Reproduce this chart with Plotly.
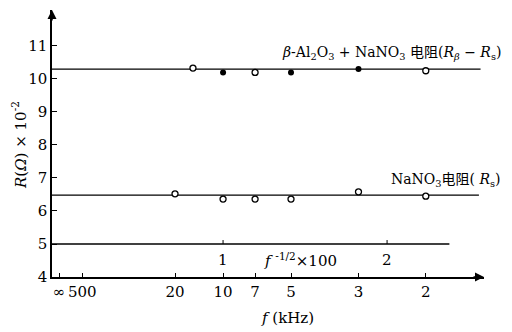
import numpy as np
import plotly.graph_objects as go

# ---- data (frequencies in kHz, resistance in units of 10^2 ohm) ----
top_open_f = [15, 7, 2]
top_open_R = [10.33, 10.20, 10.25]
top_filled_f = [10, 5, 3]
top_filled_R = [10.20, 10.20, 10.30]
top_fit_R = 10.30

nano3_f = [20, 10, 7, 5, 3, 2]
nano3_R = [6.52, 6.36, 6.36, 6.36, 6.58, 6.45]
nano3_fit_R = 6.48

xtick_f = [np.inf, 500, 20, 10, 7, 5, 3, 2]
xtick_text = ["∞", "500", "20", "10", "7", "5", "3", "2"]
yticks = [4, 5, 6, 7, 8, 9, 10, 11]

inner_axis_R = 5.0
inner_ticks = [1, 2]

def u(f_khz):
    f = np.asarray(f_khz, dtype=float)
    return 100.0 / np.sqrt(f * 1000.0)

X0, X1 = -0.043, 2.591
FONT = "DejaVu Serif, Liberation Serif, Noto Sans CJK SC, serif"
FS = 15

fig = go.Figure()

# fitted lines
fig.add_trace(go.Scatter(x=[X0, 2.57], y=[top_fit_R, top_fit_R], mode="lines",
                         line=dict(color="black", width=1.4), showlegend=False))
fig.add_trace(go.Scatter(x=[X0, 2.56], y=[nano3_fit_R, nano3_fit_R], mode="lines",
                         line=dict(color="black", width=1.4), showlegend=False))
# inner axis f^-1/2 x 100 at R=5
fig.add_trace(go.Scatter(x=[X0, 2.38], y=[inner_axis_R, inner_axis_R], mode="lines",
                         line=dict(color="black", width=1.4), showlegend=False))

# points
fig.add_trace(go.Scatter(x=u(top_open_f), y=top_open_R, mode="markers",
                         marker=dict(symbol="circle", size=6, color="white",
                                     line=dict(color="black", width=1.3)),
                         showlegend=False, cliponaxis=False))
fig.add_trace(go.Scatter(x=u(top_filled_f), y=top_filled_R, mode="markers",
                         marker=dict(symbol="circle", size=6, color="black"),
                         showlegend=False, cliponaxis=False))
fig.add_trace(go.Scatter(x=u(nano3_f), y=nano3_R, mode="markers",
                         marker=dict(symbol="circle", size=6, color="white",
                                     line=dict(color="black", width=1.3)),
                         showlegend=False, cliponaxis=False))

shapes = []
for t in inner_ticks:
    shapes.append(dict(type="line", xref="x", yref="y", x0=t, x1=t,
                       y0=inner_axis_R, y1=inner_axis_R + 0.12,
                       line=dict(color="black", width=1)))

annotations = [
    # axis arrows
    dict(x=X1, y=4, xref="x", yref="y", ax=-12, ay=0, text="", showarrow=True,
         arrowhead=2, arrowsize=1.2, arrowwidth=1.5, arrowcolor="black"),
    dict(x=X0, y=12.09, xref="x", yref="y", ax=0, ay=12, text="", showarrow=True,
         arrowhead=2, arrowsize=1.2, arrowwidth=1.5, arrowcolor="black"),
    # series labels
    dict(x=1.044, y=0.839, xref="paper", yref="paper", xanchor="right", yanchor="middle",
         text="<i>β</i>-Al<sub>2</sub>O<sub>3</sub> + NaNO<sub>3</sub> 电阻(<i>R</i><sub><i>β</i></sub> − <i>R</i><sub>s</sub>)",
         showarrow=False, font=dict(family=FONT, size=14, color="black")),
    dict(x=1.044, y=0.363, xref="paper", yref="paper", xanchor="right", yanchor="middle",
         text="NaNO<sub>3</sub>电阻( <i>R</i><sub>s</sub>)",
         showarrow=False, font=dict(family=FONT, size=14, color="black")),
    # inner axis labels
    dict(x=1.47, y=4.53, xref="x", yref="y", showarrow=False,
         text="<i>f</i> <sup>-1/2</sup>×100", font=dict(family=FONT, size=FS, color="black")),
    # titles
    dict(x=-0.076, y=0.495, xref="paper", yref="paper", xanchor="center", yanchor="middle",
         textangle=-90, showarrow=False,
         text="<i>R</i>(<i>Ω</i>) × 10<sup>-2</sup>", font=dict(family=FONT, size=FS, color="black")),
    dict(x=0.545, y=-0.154, xref="paper", yref="paper", xanchor="center", yanchor="middle",
         showarrow=False,
         text="<i>f</i> (kHz)", font=dict(family=FONT, size=FS, color="black")),
]
for t in inner_ticks:
    annotations.append(dict(x=t, y=4.52, xref="x", yref="y", showarrow=False, text=str(t),
                            font=dict(family=FONT, size=FS, color="black")))

fig.update_layout(
    width=504, height=324,
    margin=dict(l=44, r=28, t=2, b=55),
    paper_bgcolor="white", plot_bgcolor="white",
    font=dict(family=FONT, size=FS, color="black"),
    shapes=shapes, annotations=annotations,
    xaxis=dict(range=[X0, X1], showgrid=False, zeroline=False, showline=True,
               linecolor="black", linewidth=1.5, ticks="inside", ticklen=4,
               tickcolor="black", tickvals=list(u(xtick_f)), ticktext=xtick_text,
               tickfont=dict(family=FONT, size=FS, color="black")),
    yaxis=dict(range=[4, 12.09], showgrid=False, zeroline=False, showline=True,
               linecolor="black", linewidth=1.5, ticks="inside", ticklen=5,
               tickcolor="black", tickvals=yticks, ticktext=[str(v) for v in yticks],
               tickfont=dict(family=FONT, size=FS, color="black")),
)

fig.write_html("out.html")
